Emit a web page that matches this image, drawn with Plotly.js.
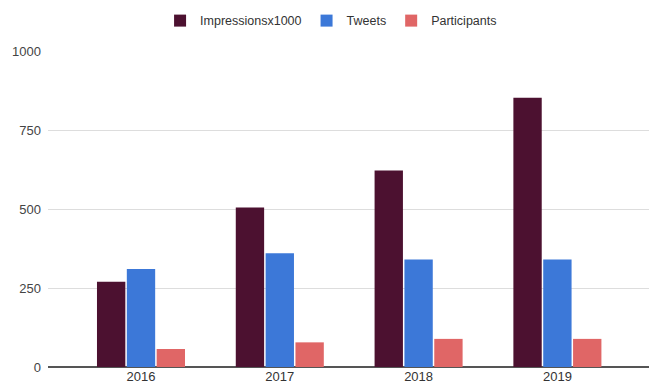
<!DOCTYPE html>
<html>
<head>
<meta charset="utf-8">
<script src="https://cdn.plot.ly/plotly-3.0.1.min.js"></script>
<style>html,body{margin:0;padding:0;background:#fff;}#chart{width:649px;height:387px;}</style>
</head>
<body>
<div id="chart"></div>
<script>
const years = ["2016", "2017", "2018", "2019"];
const impressions = [270, 505, 622, 852];
const tweets = [310, 360, 340, 340];
const participants = [57, 78, 89, 89];
const yTicks = [0, 250, 500, 750, 1000];

const mk = (name, y, color) => ({
  type: 'bar', name: name, x: years, y: y,
  marker: {color: color, line: {width: 0}},
  hoverinfo: 'x+y+name'
});

const data = [
  mk('Impressionsx1000', impressions, '#4c1130'),
  mk('Tweets', tweets, '#3c78d8'),
  mk('Participants', participants, '#e06666')
];

const layout = {
  width: 649, height: 387,
  margin: {l: 48, r: 0, t: 51, b: 20, pad: 0, autoexpand: false},
  paper_bgcolor: '#ffffff', plot_bgcolor: '#ffffff',
  font: {family: 'Arial, "Liberation Sans", sans-serif', size: 12, color: '#444444'},
  barmode: 'group', bargap: 0.355, bargroupgap: 0.05,
  showlegend: true,
  legend: {orientation: 'h', x: 0.471, xanchor: 'center', y: 1.095, yanchor: 'middle',
           font: {size: 12.5, color: '#333333'}, itemwidth: 30, traceorder: 'normal'},
  xaxis: {type: 'category', range: [-0.67, 3.66], showgrid: false, zeroline: false,
          showline: false, ticks: '', tickfont: {size: 13, color: '#333333'}, fixedrange: true},
  yaxis: {range: [0, 1000], tickvals: yTicks, ticktext: yTicks.map(String),
          showgrid: true, gridcolor: '#dddddd', gridwidth: 1,
          zeroline: true, zerolinecolor: '#555555', zerolinewidth: 1.5,
          showline: false, ticks: '', ticklabelstandoff: 6,
          tickfont: {size: 13, color: '#444444'}, fixedrange: true}
};

Plotly.newPlot('chart', data, layout, {displayModeBar: false, staticPlot: true});
</script>
</body>
</html>
